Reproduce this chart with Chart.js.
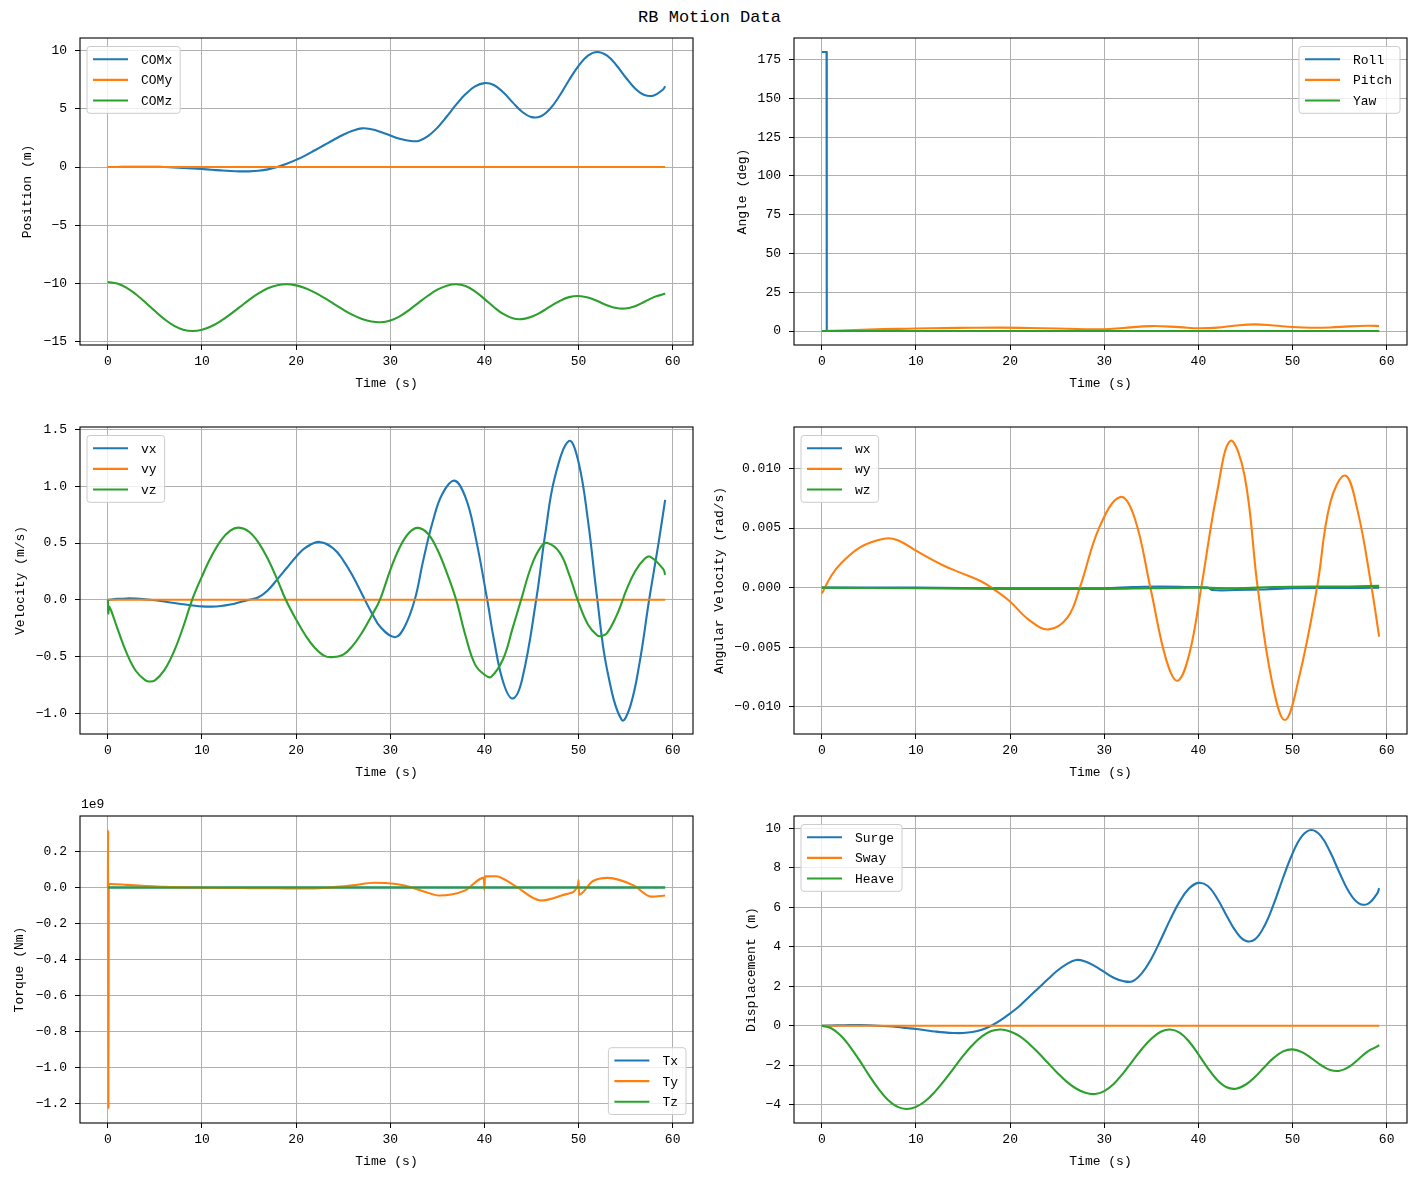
<!DOCTYPE html>
<html>
<head>
<meta charset="utf-8">
<title>RB Motion Data</title>
<script src="https://cdn.jsdelivr.net/npm/chart.js@4.4.1/dist/chart.umd.min.js"></script>
<style>
  html, body { margin: 0; padding: 0; background: #fff; }
  body { width: 1419px; height: 1180px; position: relative; overflow: hidden;
         font-family: 'Liberation Mono', 'DejaVu Sans Mono', monospace; }
  #title { position: absolute; left: 0; top: 8px; width: 1419px; text-align: center;
           font-size: 17px; line-height: 20px; color: #000; }
  .panel { position: absolute; }
</style>
</head>
<body>
<div id="title">RB Motion Data</div>
<canvas id="c0" class="panel"></canvas>
<canvas id="c1" class="panel"></canvas>
<canvas id="c2" class="panel"></canvas>
<canvas id="c3" class="panel"></canvas>
<canvas id="c4" class="panel"></canvas>
<canvas id="c5" class="panel"></canvas>
<script>
// ---- data ----
const t1 = [0, 1, 2, 3, 4, 5, 6, 7, 8, 9, 10, 11, 12, 13, 14, 15, 16, 17, 18, 19,
  20, 21, 22, 23, 24, 25, 26, 27, 28, 29, 30, 31, 32, 33, 34, 35, 36, 37, 38, 39,
  40, 41, 42, 43, 44, 45, 46, 47, 48, 49, 50, 51, 52, 53, 54, 55, 56, 57, 58, 59, 59.2];
const tFlat = [0, 59.2];

const comX = [0, 0.01, 0.02, 0.03, 0.03, 0.02, 0.0, -0.03, -0.07, -0.12,
  -0.17, -0.23, -0.29, -0.34, -0.37, -0.37, -0.32, -0.2, 0.0, 0.28,
  0.62, 1.0, 1.45, 1.9, 2.35, 2.78, 3.12, 3.33, 3.25, 3.02,
  2.72, 2.43, 2.26, 2.25, 2.66, 3.39, 4.35, 5.37, 6.28, 6.94,
  7.23, 7.07, 6.44, 5.57, 4.76, 4.30, 4.37, 5.04, 6.16, 7.49,
  8.72, 9.60, 9.91, 9.61, 8.79, 7.73, 6.77, 6.21, 6.17, 6.70, 6.96];
const comY = [0, 0];
const comZ = [-9.9, -10.03, -10.40, -10.97, -11.66, -12.40, -13.09, -13.65, -14.00, -14.12,
  -14.01, -13.71, -13.25, -12.68, -12.06, -11.43, -10.88, -10.44, -10.17, -10.09,
  -10.19, -10.43, -10.81, -11.27, -11.78, -12.28, -12.73, -13.08, -13.30, -13.36,
  -13.21, -12.85, -12.31, -11.69, -11.08, -10.56, -10.21, -10.09, -10.25, -10.70,
  -11.35, -12.05, -12.65, -13.02, -13.09, -12.89, -12.50, -12.00, -11.53, -11.20,
  -11.10, -11.24, -11.54, -11.89, -12.14, -12.18, -11.98, -11.60, -11.20, -10.95, -10.88];

const rollT = [0, 0.5, 0.52, 59.2];
const roll = [180, 180, 0, 0];
const pitchT = [0, 2, 5, 8, 10, 13, 16, 19, 22, 25, 28, 30, 32, 35, 38, 40, 42, 44, 46, 48,
  50, 52, 54, 56, 58, 59.2];
const pitch = [0, 0.4, 1.0, 1.4, 1.6, 1.9, 2.1, 2.2, 2.0, 1.6, 1.2, 1.2, 2.0, 3.2, 2.5, 1.8, 2.2, 3.6, 4.3, 3.6,
  2.6, 2.1, 2.3, 3.0, 3.4, 3.3];
const yaw = [0, 0];

const vxT = [0, 1, 2, 3, 4.5, 6, 8, 9, 10, 11, 12, 13, 14, 15, 16, 17, 18, 19, 20, 21,
  22.5, 24, 25, 26, 27.3, 28, 29, 30.5, 31.5, 32.6, 33.5, 34.5, 35.5, 36.8, 38, 39, 40.3, 41, 42, 43,
  44, 45.5, 46.5, 47.5, 49, 50, 51, 52, 53, 54.6, 55.5, 56.5, 57.5, 58.5, 59.2];
const vx = [0, 0.008, 0.012, 0.01, 0, -0.015, -0.04, -0.05, -0.058, -0.06,
  -0.055, -0.042, -0.022, 0, 0.022, 0.085, 0.18, 0.28, 0.38, 0.46,
  0.51, 0.449, 0.348, 0.211, 0, -0.111, -0.245, -0.33, -0.242, 0,
  0.347, 0.685, 0.928, 1.05, 0.901, 0.579, 0, -0.345, -0.727, -0.87,
  -0.704, 0, 0.603, 1.087, 1.40, 1.212, 0.70, 0, -0.602, -1.06,
  -0.937, -0.547, 0, 0.5, 0.88];
const vy = [0, 0];
const vzT = [0, 0.05, 0.15, 1, 2, 3, 4, 4.4, 5, 6, 7, 8, 8.95, 10, 11, 12, 13, 13.9, 15, 16,
  17, 18, 18.9, 20, 21, 22, 23, 23.9, 25, 26, 27, 28, 28.9, 30, 31, 32, 32.95, 34, 35, 36,
  37, 38, 39, 40, 40.7, 42, 43, 43.9, 45, 46, 46.7, 48, 49, 49.9, 51, 52, 52.4, 53, 54, 54.7,
  55, 56, 57, 57.6, 59, 59.2];
const vz = [0, -0.12, -0.06, -0.25, -0.47, -0.63, -0.71, -0.72, -0.71, -0.62,
  -0.46, -0.24, 0, 0.207, 0.383, 0.522, 0.609, 0.636, 0.6, 0.504,
  0.359, 0.178, 0, -0.174, -0.315, -0.425, -0.494, -0.505, -0.484, -0.406,
  -0.289, -0.143, 0, 0.262, 0.461, 0.591, 0.634, 0.582, 0.443, 0.24,
  0, -0.319, -0.569, -0.66, -0.68, -0.52, -0.25, 0, 0.3, 0.466,
  0.5, 0.416, 0.224, 0, -0.217, -0.315, -0.32, -0.296, -0.146, 0,
  0.07, 0.25, 0.36, 0.38, 0.27, 0.22];

const wxT = [0, 10, 20, 30, 33, 36, 39, 41, 41.5, 44, 47, 50, 55, 59.2];
const wx = [0, 0, -0.00005, -0.00005, 0.00005, 0.0001, 0.00005, 0.0, -0.0002, -0.0002, -0.00015, -0.00005, -0.00003, 0.0];
const wyT = [0, 1, 2, 4.1, 6.6, 8, 10, 12.8, 14.9, 17, 18.2, 19.9, 22, 24.1, 26.1, 27.4, 29.5, 31.7, 33.2, 34.9,
  36.6, 37.8, 39.05, 40.3, 41.96, 43.4, 44.9, 46.3, 47.8, 49.2, 50.7, 52.6, 54, 55.6, 56.9, 58.4, 59.2];
const wy = [-0.0005, 0.001, 0.002, 0.0034, 0.0041, 0.004, 0.0031, 0.0019, 0.0012, 0.0005,
  -0.0001, -0.0011, -0.0027, -0.0035, -0.0025, 0, 0.0051, 0.0076, 0.0059, 0,
  -0.0061, -0.0078, -0.0055, 0, 0.0079, 0.0123, 0.0094, 0, -0.0078, -0.0111,
  -0.0075, 0, 0.0071, 0.0094, 0.0065, 0, -0.0041];
const wzT = [0, 10, 20, 30, 35, 40, 44, 48, 52, 56, 59.2];
const wz = [0, -0.00005, -0.0001, -0.0001, -0.00005, 0, -0.00005, 0.00005, 0.0001, 0.0001, 0.00015];

// torque in units of 1e9 Nm
const tx = [0, 0];
const tyT = [0, 0.03, 0.06, 0.1, 0.4, 2, 4, 6, 9, 12, 15, 18, 20.5, 23, 26, 28.3, 29.5, 31.5, 33.5, 35.2,
  37.9, 39.95, 40, 40.05, 41.2, 43.2, 46, 48.8, 49.95, 50, 50.05, 51.5, 53.1, 55.9, 57.7, 59.2];
const ty = [0, 0.32, -1.23, 0.02, 0.02, 0.015, 0.009, 0.004, 0.0, -0.002,
  -0.003, -0.004, -0.005, -0.002, 0.012, 0.027, 0.025, 0.011, -0.02, -0.044,
  -0.017, 0.055, -0.013, 0.062, 0.063, 0.011, -0.072, -0.035, 0.015, 0.043,
  -0.039, 0.035, 0.054, 0.011, -0.05, -0.044];
const tz = [0, 0];

const surge = [0, 0.01, 0.02, 0.03, 0.03, 0.02, 0.0, -0.03, -0.07, -0.12,
  -0.17, -0.23, -0.29, -0.34, -0.37, -0.37, -0.32, -0.2, 0.0, 0.28,
  0.62, 1.0, 1.45, 1.9, 2.35, 2.78, 3.12, 3.33, 3.25, 3.02,
  2.72, 2.43, 2.26, 2.25, 2.66, 3.39, 4.35, 5.37, 6.28, 6.94,
  7.23, 7.07, 6.44, 5.57, 4.76, 4.30, 4.37, 5.04, 6.16, 7.49,
  8.72, 9.60, 9.91, 9.61, 8.79, 7.73, 6.77, 6.21, 6.17, 6.70, 6.96];
const sway = [0, 0];
const heave = [0, -0.13, -0.50, -1.07, -1.76, -2.50, -3.19, -3.75, -4.10, -4.22,
  -4.11, -3.81, -3.35, -2.78, -2.16, -1.53, -0.98, -0.54, -0.27, -0.19,
  -0.29, -0.53, -0.91, -1.37, -1.88, -2.38, -2.83, -3.18, -3.40, -3.46,
  -3.31, -2.95, -2.41, -1.79, -1.18, -0.66, -0.31, -0.19, -0.35, -0.80,
  -1.45, -2.15, -2.75, -3.12, -3.19, -2.99, -2.60, -2.10, -1.63, -1.30,
  -1.20, -1.34, -1.64, -1.99, -2.24, -2.28, -2.08, -1.70, -1.30, -1.05, -0.98];

// tick labels
const timeTicks = [0, 10, 20, 30, 40, 50, 60];
const positionTicks = [-15, -10, -5, 0, 5, 10];
const angleTicks = [0, 25, 50, 75, 100, 125, 150, 175];
const velocityTicks = [-1.0, -0.5, 0.0, 0.5, 1.0, 1.5];
const angVelTicks = [-0.010, -0.005, 0.000, 0.005, 0.010];
const torqueTicks = [-1.2, -1.0, -0.8, -0.6, -0.4, -0.2, 0.0, 0.2];
const dispTicks = [-4, -2, 0, 2, 4, 6, 8, 10];

// ---- layout ----
const COLORS = ['#1f77b4', '#ff7f0e', '#2ca02c'];
const FONT = "'Liberation Mono', 'DejaVu Sans Mono', monospace";
const colLeft = [80, 794];
const rowTop = [38, 427, 816];
const AREA_W = 613, AREA_H = 307;
const Y_AXIS_W = [80, 90];
const PAD_T = 20, PAD_R = 8, X_AXIS_H = 50;

Chart.defaults.font.family = FONT;
Chart.defaults.font.size = 13;
Chart.defaults.color = '#000';

// 4th entry of a series: how to join its points ('straight', 'monotone', default smooth)
const panels = [
  { canvas: 'c0', col: 0, row: 0, yTitle: 'Position (m)', yTitlePad: 20, yTicks: positionTicks, decimals: 0,
    legend: 'tl', series: [['COMx', t1, comX], ['COMy', tFlat, comY], ['COMz', t1, comZ]] },
  { canvas: 'c1', col: 1, row: 0, yTitle: 'Angle (deg)', yTitlePad: 31, yTicks: angleTicks, decimals: 0,
    legend: 'tr', series: [['Roll', rollT, roll, 'straight'], ['Pitch', pitchT, pitch], ['Yaw', tFlat, yaw]] },
  { canvas: 'c2', col: 0, row: 1, yTitle: 'Velocity (m/s)', yTitlePad: 13, yTicks: velocityTicks, decimals: 1,
    legend: 'tl', series: [['vx', vxT, vx], ['vy', tFlat, vy], ['vz', vzT, vz]] },
  { canvas: 'c3', col: 1, row: 1, yTitle: 'Angular Velocity (rad/s)', yTitlePad: 8, yTicks: angVelTicks, decimals: 3,
    legend: 'tl', series: [['wx', wxT, wx], ['wy', wyT, wy], ['wz', wzT, wz]] },
  { canvas: 'c4', col: 0, row: 2, yTitle: 'Torque (Nm)', yTitlePad: 12, yTicks: torqueTicks, decimals: 1,
    legend: 'br', offsetText: '1e9', series: [['Tx', tFlat, tx], ['Ty', tyT, ty, 'monotone'], ['Tz', tFlat, tz]] },
  { canvas: 'c5', col: 1, row: 2, yTitle: 'Displacement (m)', yTitlePad: 40, yTicks: dispTicks, decimals: 0,
    legend: 'tl', series: [['Surge', t1, surge], ['Sway', tFlat, sway], ['Heave', t1, heave]] },
];

function fmtTick(v, dec) {
  const s = Math.abs(v).toFixed(dec);
  return (v < -1e-12 ? '\u2212' : '') + s;
}

// axes frame, offset text and a matplotlib-like legend drawn inside the axes
const mplDecor = {
  id: 'mplDecor',
  afterDatasetsDraw(chart, args, opts) {
    const { ctx, chartArea: a } = chart;
    ctx.save();
    ctx.strokeStyle = '#000';
    ctx.lineWidth = 1.1;
    ctx.strokeRect(a.left, a.top, a.right - a.left, a.bottom - a.top);

    ctx.font = '13px ' + FONT;
    ctx.fillStyle = '#000';
    if (opts.offsetText) {
      ctx.textAlign = 'left';
      ctx.textBaseline = 'bottom';
      ctx.fillText(opts.offsetText, a.left + 1, a.top - 5);
    }

    const items = chart.data.datasets;
    const textW = Math.max(...items.map(d => ctx.measureText(d.label).width));
    const w = 54 + textW + 8;
    const rowH = 20.6;
    const h = 25.6 + (items.length - 1) * rowH;
    let x = a.left + 7, y = a.top + 8.5;
    if (opts.corner === 'tr') { x = a.right - 7 - w; }
    if (opts.corner === 'br') { x = a.right - 7 - w; y = a.bottom - 8.5 - h; }

    ctx.beginPath();
    if (ctx.roundRect) ctx.roundRect(x, y, w, h, 3); else ctx.rect(x, y, w, h);
    ctx.fillStyle = 'rgba(255,255,255,0.8)';
    ctx.fill();
    ctx.strokeStyle = '#cccccc';
    ctx.lineWidth = 1;
    ctx.stroke();

    ctx.textAlign = 'left';
    ctx.textBaseline = 'middle';
    items.forEach((d, i) => {
      const ry = y + 12.8 + i * rowH;
      ctx.strokeStyle = d.borderColor;
      ctx.lineWidth = 2.1;
      ctx.beginPath();
      ctx.moveTo(x + 6, ry);
      ctx.lineTo(x + 41, ry);
      ctx.stroke();
      ctx.fillStyle = '#000';
      ctx.fillText(d.label, x + 54, ry + 1);
    });
    ctx.restore();
  }
};

panels.forEach(p => {
  const axisW = Y_AXIS_W[p.col];
  const cv = document.getElementById(p.canvas);
  const w = axisW + AREA_W + PAD_R;
  const h = PAD_T + AREA_H + X_AXIS_H;
  cv.style.left = (colLeft[p.col] - axisW) + 'px';
  cv.style.top = (rowTop[p.row] - PAD_T) + 'px';
  cv.width = w; cv.height = h;
  cv.style.width = w + 'px'; cv.style.height = h + 'px';

  // autoscale like matplotlib: data range plus 5% margins
  let lo = Infinity, hi = -Infinity, tLo = Infinity, tHi = -Infinity;
  p.series.forEach(s => {
    s[2].forEach(v => { lo = Math.min(lo, v); hi = Math.max(hi, v); });
    s[1].forEach(t => { tLo = Math.min(tLo, t); tHi = Math.max(tHi, t); });
  });
  const m = (hi - lo) * 0.05, tm = (tHi - tLo) * 0.05;

  const gridOpts = { color: '#b0b0b0', lineWidth: 1, tickLength: 5, tickColor: '#000', tickWidth: 1 };

  new Chart(cv, {
    type: 'line',
    data: {
      datasets: p.series.map((s, i) => ({
        label: s[0],
        data: s[1].map((x, k) => ({ x: x, y: s[2][k] })),
        borderColor: COLORS[i],
        backgroundColor: COLORS[i],
        borderWidth: 2.1,
        pointRadius: 0,
        fill: false,
        tension: s[3] ? 0 : 0.4,
        cubicInterpolationMode: s[3] === 'monotone' ? 'monotone' : 'default',
        order: p.series.length - 1 - i,
      })),
    },
    options: {
      responsive: false,
      animation: false,
      events: [],
      layout: { padding: { top: PAD_T, right: PAD_R, left: 0, bottom: 0 } },
      plugins: {
        legend: { display: false },
        tooltip: { enabled: false },
        mplDecor: { corner: p.legend, offsetText: p.offsetText },
      },
      scales: {
        x: {
          type: 'linear',
          bounds: 'data',
          min: tLo - tm,
          max: tHi + tm,
          afterBuildTicks: s => { s.ticks = timeTicks.map(v => ({ value: v })); },
          afterFit: s => { s.height = X_AXIS_H; },
          ticks: { autoSkip: false, maxRotation: 0, padding: 4, color: '#000',
                   callback: v => fmtTick(v, 0) },
          grid: gridOpts,
          border: { display: false },
          title: { display: true, text: 'Time (s)', color: '#000', padding: { top: 4, bottom: 4 } },
        },
        y: {
          type: 'linear',
          bounds: 'data',
          min: lo - m,
          max: hi + m,
          afterBuildTicks: s => { s.ticks = p.yTicks.map(v => ({ value: v })); },
          afterFit: s => { s.width = axisW; },
          ticks: { autoSkip: false, padding: 8, color: '#000',
                   callback: v => fmtTick(v, p.decimals) },
          grid: gridOpts,
          border: { display: false },
          title: { display: true, text: p.yTitle, color: '#000', padding: { top: p.yTitlePad, bottom: 0 } },
        },
      },
    },
    plugins: [mplDecor],
  });
});
</script>
</body>
</html>
